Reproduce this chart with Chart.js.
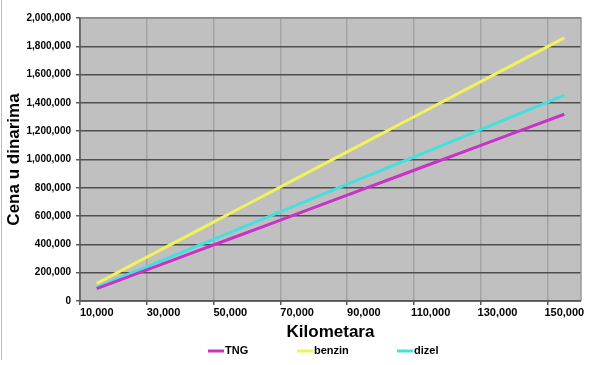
<!DOCTYPE html>
<html>
<head>
<meta charset="utf-8">
<script src="https://cdn.jsdelivr.net/npm/chart.js@4/dist/chart.umd.min.js"></script>
<style>
  html, body { margin:0; padding:0; background:#fff; }
  #wrap { width:599px; height:365px; position:relative; }
</style>
</head>
<body>
<div id="wrap"><canvas id="chart" width="599" height="365"></canvas></div>
<script>
// --- data ---
const kilometers = ['10,000','20,000','30,000','40,000','50,000','60,000','70,000','80,000',
  '90,000','100,000','110,000','120,000','130,000','140,000','150,000'];
const tng    = [88000,176000,264000,352000,440000,528000,616000,704000,792000,880000,968000,1056000,1144000,1232000,1320000];
const benzin = [124000,248000,372000,496000,620000,744000,868000,992000,1116000,1240000,1364000,1488000,1612000,1736000,1860000];
const dizel  = [97000,194000,291000,388000,485000,582000,679000,776000,873000,970000,1067000,1164000,1261000,1358000,1455000];
const seriesNames = ['TNG','benzin','dizel'];
const seriesColors = ['#c832c8','#f2f25a','#44e0e0'];
const yTicks = [0,200000,400000,600000,800000,1000000,1200000,1400000,1600000,1800000,2000000];

const boldFont = size => ({family:'Arial, "Liberation Sans", sans-serif', size:size, weight:'bold'});

// plot background + frame, and the little outer border on the left
const plotBg = {
  id:'plotBg',
  beforeDraw(chart){
    const {ctx, chartArea:a} = chart;
    ctx.save();
    ctx.fillStyle = '#c0c0c0';
    ctx.fillRect(a.left, a.top, a.right-a.left, a.bottom-a.top);
    ctx.strokeStyle = '#bdbdbd';
    ctx.lineWidth = 1;
    ctx.beginPath(); ctx.moveTo(1.5, 0); ctx.lineTo(1.5, 360); ctx.stroke();
    ctx.restore();
  },
  afterDatasetsDraw(chart){
    const {ctx, chartArea:a} = chart;
    ctx.save();
    ctx.strokeStyle = '#9a9a9a';
    ctx.lineWidth = 1.5;
    ctx.beginPath();
    ctx.moveTo(a.left, a.top); ctx.lineTo(a.right, a.top); ctx.lineTo(a.right, a.bottom);
    ctx.stroke();
    ctx.strokeStyle = '#5a5a5a';
    ctx.beginPath();
    ctx.moveTo(a.left, a.top); ctx.lineTo(a.left, a.bottom); ctx.lineTo(a.right, a.bottom);
    ctx.stroke();
    ctx.restore();
  }
};

// legend spaced like the original
const spacedLegend = {
  id:'spacedLegend',
  afterDraw(chart){
    const ctx = chart.ctx;
    const xs = [208, 297, 397];
    const y = 351;
    ctx.save();
    ctx.font = 'bold 11px Arial, "Liberation Sans", sans-serif';
    ctx.textBaseline = 'middle';
    chart.data.datasets.forEach((ds, i) => {
      ctx.strokeStyle = ds.borderColor;
      ctx.lineWidth = 3;
      ctx.beginPath(); ctx.moveTo(xs[i], y); ctx.lineTo(xs[i]+16, y); ctx.stroke();
      ctx.fillStyle = '#000';
      ctx.fillText(ds.label, xs[i]+17, y);
    });
    ctx.restore();
  }
};

const allSeries = [tng, benzin, dizel];
const datasets = allSeries.map((vals, i) => ({
  label: seriesNames[i],
  data: vals,
  borderColor: seriesColors[i],
  backgroundColor: seriesColors[i],
  borderWidth: 3,
  pointRadius: 0,
  tension: 0,
  fill: false
}));

new Chart(document.getElementById('chart'), {
  type:'line',
  data:{labels:kilometers, datasets},
  options:{
    responsive:false,
    animation:false,
    layout:{padding:{top:18, right:18, left:0, bottom:19}},
    plugins:{legend:{display:false}, tooltip:{enabled:false}},
    scales:{
      x:{
        type:'category',
        offset:true,
        border:{display:false},
        grid:{
          offset:true,
          color: c => (c.index % 2 === 0 ? '#a3a3a3' : 'rgba(0,0,0,0)'),
          tickColor: c => (c.index % 2 === 0 ? '#5a5a5a' : 'rgba(0,0,0,0)'),
          lineWidth:1.5,
          tickLength:4
        },
        ticks:{
          autoSkip:false, maxRotation:0, minRotation:0,
          color:'#000', font:boldFont(11), padding:1,
          callback:(v, i) => (i % 2 === 0 ? kilometers[i] : '')
        },
        title:{display:true, text:'Kilometara', color:'#000', font:boldFont(17), padding:{top:4, bottom:3}},
        afterFit: s => { s.height = 45; }
      },
      y:{
        min:0, max:2000000,
        border:{display:false},
        afterBuildTicks: s => { s.ticks = yTicks.map(v => ({value:v})); },
        grid:{color:'#4f4f4f', lineWidth:1.5, tickColor:'#5a5a5a', tickLength:4},
        ticks:{color:'#000', font:boldFont(10), padding:5,
          callback: v => Number(v).toLocaleString('en-US')},
        title:{display:true, text:'Cena u dinarima', color:'#000', font:boldFont(17), padding:{top:4, bottom:0}},
        afterFit: s => { s.width = 80; }
      }
    }
  },
  plugins:[plotBg, spacedLegend]
});
</script>
</body>
</html>
